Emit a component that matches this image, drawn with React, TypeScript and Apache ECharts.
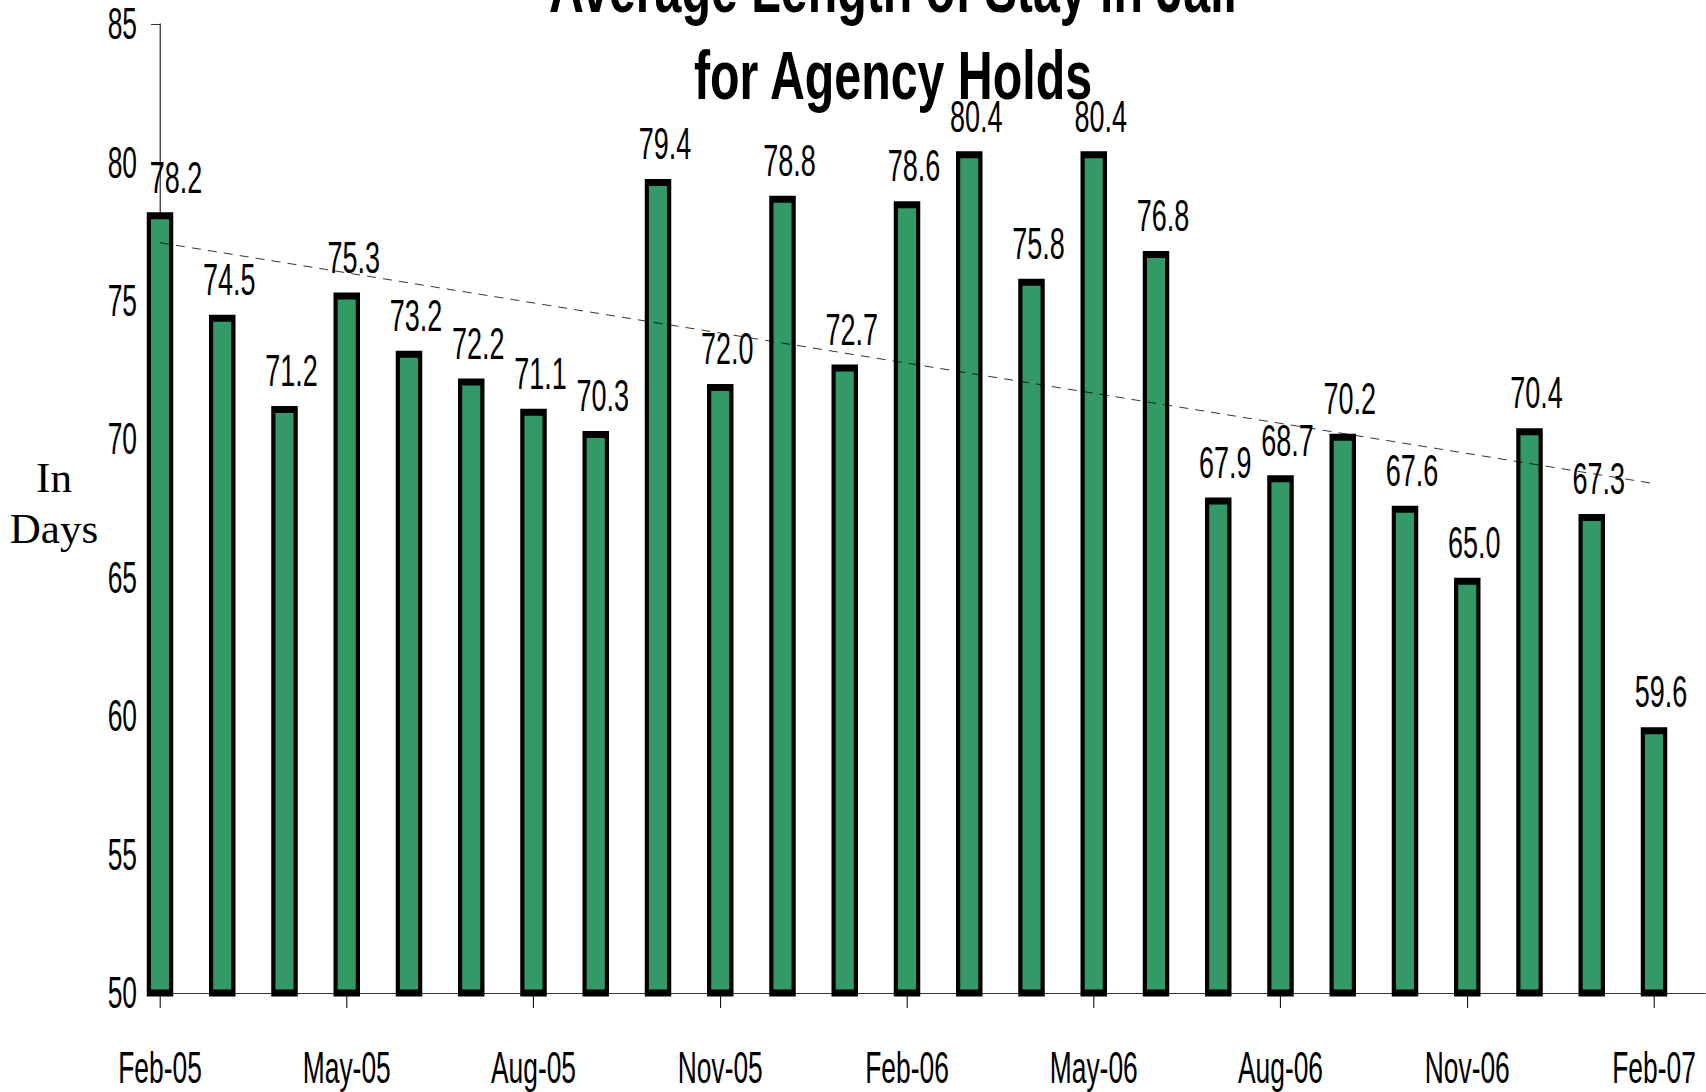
import React, { useEffect, useRef } from "react";
import * as echarts from "echarts";

// ---- data ----
const months = [
  "Feb-05", "Mar-05", "Apr-05", "May-05", "Jun-05", "Jul-05", "Aug-05", "Sep-05",
  "Oct-05", "Nov-05", "Dec-05", "Jan-06", "Feb-06", "Mar-06", "Apr-06", "May-06",
  "Jun-06", "Jul-06", "Aug-06", "Sep-06", "Oct-06", "Nov-06", "Dec-06", "Jan-07", "Feb-07",
];
const stayDays = [
  78.2, 74.5, 71.2, 75.3, 73.2, 72.2, 71.1, 70.3, 79.4, 72.0, 78.8, 72.7, 78.6,
  80.4, 75.8, 80.4, 76.8, 67.9, 68.7, 70.2, 67.6, 65.0, 70.4, 67.3, 59.6,
];
const tickLabels = ["Feb-05", "May-05", "Aug-05", "Nov-05", "Feb-06", "May-06", "Aug-06", "Nov-06", "Feb-07"];
const trendStart = 77.1; // trend value at Feb-05
const trendEnd = 68.4; // trend value at Feb-07
const yMin = 50;
const yMax = 85;
const yStep = 5;
const titleLine1 = "Average Length of Stay in Jail";
const titleLine2 = "for Agency Holds";
const yName = "In\nDays";

// ---- layout (the chart is drawn wide, then condensed horizontally) ----
const S = 0.6;
const W = 1706;
const H = 1092;
const CW = W / S;
const px = (x: number) => x / S;

export default function App() {
  const ref = useRef<HTMLDivElement>(null);

  useEffect(() => {
    document.body.style.overflow = "hidden";
    const chart = echarts.init(ref.current!, null, { renderer: "svg", width: CW, height: H });
    const lastIdx = months.length - 1;
    const tickValues = tickLabels.map((lab) => months.indexOf(lab));
    const numFont = '"Liberation Sans", Arial, Helvetica, sans-serif';
    const titleScale = 1.184;

    const option: any = {
      animation: false,
      backgroundColor: "#ffffff",
      grid: { left: px(160), right: 0, top: 24, bottom: 99, containLabel: false },
      xAxis: {
        type: "value",
        min: 0,
        max: (W - 160) / 62.25,
        interval: 3,
        splitLine: { show: false },
        axisLine: { show: true, onZero: false, lineStyle: { color: "#000", width: 1 } },
        axisTick: {
          show: true,
          length: 15,
          customValues: tickValues,
          lineStyle: { color: "#000", width: 1.7 },
        },
        axisLabel: {
          show: true,
          customValues: tickValues,
          margin: 53,
          fontSize: 44,
          fontFamily: numFont,
          color: "#000",
          formatter: (v: number) => months[Math.round(v)] ?? "",
        },
      },
      yAxis: {
        type: "value",
        min: yMin,
        max: yMax,
        interval: yStep,
        splitLine: { show: false },
        axisLine: { show: true, lineStyle: { color: "#000", width: 1.7 } },
        axisTick: { show: true, length: px(9), lineStyle: { color: "#000", width: 1 } },
        axisLabel: {
          margin: px(23),
          fontSize: 44,
          fontFamily: numFont,
          color: "#000",
        },
      },
      graphic: [
        {
          type: "text",
          x: px(893),
          y: -11.6,
          scaleX: titleScale,
          style: {
            text: titleLine1,
            fontSize: 68,
            fontWeight: "bold",
            fontFamily: numFont,
            fill: "#000",
            textAlign: "center",
            textVerticalAlign: "middle",
          },
        },
        {
          type: "text",
          x: px(893),
          y: 75.4,
          scaleX: titleScale,
          style: {
            text: titleLine2,
            fontSize: 68,
            fontWeight: "bold",
            fontFamily: numFont,
            fill: "#000",
            textAlign: "center",
            textVerticalAlign: "middle",
          },
        },
        {
          type: "text",
          x: px(54),
          y: 503,
          scaleX: 1 / S,
          style: {
            text: yName,
            fontSize: 43,
            lineHeight: 52,
            fontFamily: '"Liberation Serif", "Times New Roman", serif',
            fill: "#000",
            textAlign: "center",
            textVerticalAlign: "middle",
          },
        },
      ],
      series: [
        {
          type: "bar",
          barWidth: px(26.5),
          clip: true,
          data: stayDays.map((v, i) =>
            i === 0 ? { value: [i, v], label: { offset: [px(16), 0] } } : { value: [i, v] }
          ),
          itemStyle: { color: "#339966", borderColor: "#000", borderWidth: 7 },
          label: {
            show: true,
            position: "top",
            distance: 13,
            offset: [px(7), 0],
            fontSize: 45,
            lineHeight: 45,
            fontFamily: numFont,
            color: "#000",
            formatter: (p: any) => p.value[1].toFixed(1),
          },
          z: 2,
        },
        {
          type: "line",
          data: [
            [0, trendStart],
            [lastIdx, trendEnd],
          ],
          symbol: "none",
          silent: true,
          lineStyle: { color: "#000", width: 1, type: [px(9), px(7)] },
          z: 5,
        },
      ],
    };

    chart.setOption(option);
    return () => {
      chart.dispose();
    };
  }, []);

  return (
    <div
      style={{
        position: "absolute",
        left: 0,
        top: 0,
        width: W,
        height: H,
        overflow: "hidden",
        background: "#fff",
      }}
    >
      <div
        ref={ref}
        style={{
          width: CW,
          height: H,
          transform: `scaleX(${S})`,
          transformOrigin: "0 0",
        }}
      />
    </div>
  );
}
